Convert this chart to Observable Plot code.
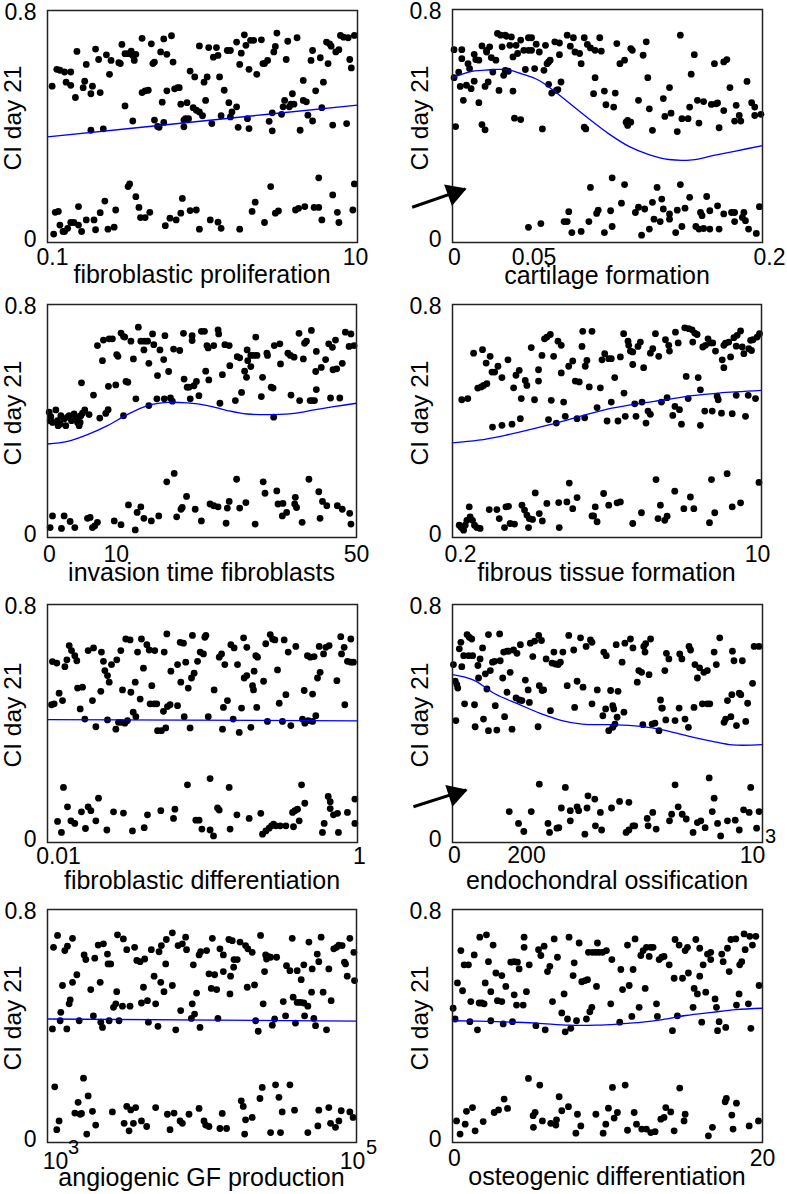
<!DOCTYPE html>
<html><head><meta charset="utf-8">
<script src="https://cdn.jsdelivr.net/npm/d3@7"></script>
<script src="https://cdn.jsdelivr.net/npm/@observablehq/plot@0.6"></script>
<style>
html,body{margin:0;padding:0;background:#fff;}
#chart{position:relative;width:787px;height:1194px;overflow:hidden;font-family:"Liberation Sans",Arial,sans-serif;color:#000;}
.panel{position:absolute;}
.xt{position:absolute;font-size:25px;line-height:1;white-space:nowrap;transform:translateX(-50%);}
.yt{position:absolute;font-size:24.5px;line-height:1;white-space:nowrap;transform:translate(-50%,-50%) rotate(-90deg);}
</style></head><body><div id="chart"></div><script>
// ---------- DATA ----------
const yTicks = [0, 0.8];
const yTickLabels = ["0", "0.8"];
const yTitle = "CI day 21";

// panel 1: fibroblastic proliferation (log10 of parameter, CI)
const fibProlifLog10Pts = [[-0.97,0.539],[-0.94,0.597],[-0.92,0.594],[-0.89,0.588],[-0.85,0.588],[-0.88,0.553],[-0.85,0.542],[-0.81,0.659],[-0.82,0.50],[-0.77,0.534],[-0.76,0.556],[-0.75,0.614],[-0.72,0.387],[-0.72,0.513],[-0.71,0.539],[-0.69,0.667],[-0.67,0.631],[-0.66,0.517],[-0.64,0.392],[-0.62,0.647],[-0.60,0.58],[-0.59,0.628],[-0.54,0.62],[-0.53,0.617],[-0.52,0.683],[-0.50,0.471],[-0.50,0.651],[-0.48,0.651],[-0.46,0.66],[-0.45,0.645],[-0.44,0.628],[-0.45,0.419],[-0.43,0.649],[-0.39,0.704],[-0.39,0.517],[-0.37,0.523],[-0.35,0.525],[-0.33,0.685],[-0.32,0.617],[-0.31,0.622],[-0.31,0.422],[-0.29,0.40],[-0.28,0.397],[-0.27,0.657],[-0.26,0.484],[-0.25,0.414],[-0.25,0.702],[-0.23,0.649],[-0.23,0.523],[-0.20,0.713],[-0.19,0.622],[-0.18,0.53],[-0.16,0.534],[-0.15,0.534],[-0.14,0.477],[-0.12,0.422],[-0.12,0.399],[-0.11,0.427],[-0.09,0.427],[-0.10,0.482],[-0.08,0.591],[-0.06,0.465],[-0.05,0.571],[-0.04,0.456],[-0.02,0.45],[-0.02,0.678],[0,0.437],[0.01,0.553],[0.02,0.49],[0.03,0.571],[0.04,0.672],[0.06,0.41],[0.07,0.639],[0.09,0.672],[0.10,0.645],[0.11,0.571],[0.12,0.437],[0.14,0.525],[0.16,0.662],[0.18,0.662],[0.17,0.482],[0.18,0.433],[0.19,0.45],[0.22,0.691],[0.22,0.468],[0.23,0.397],[0.24,0.614],[0.25,0.653],[0.27,0.716],[0.28,0.68],[0.29,0.427],[0.30,0.597],[0.30,0.393],[0.31,0.697],[0.33,0.697],[0.35,0.58],[0.38,0.699],[0.39,0.617],[0.40,0.617],[0.42,0.628],[0.43,0.418],[0.45,0.447],[0.45,0.385],[0.46,0.657],[0.47,0.676],[0.48,0.722],[0.51,0.442],[0.52,0.468],[0.53,0.49],[0.54,0.631],[0.55,0.694],[0.56,0.468],[0.57,0.477],[0.58,0.513],[0.59,0.477],[0.61,0.706],[0.63,0.387],[0.65,0.559],[0.65,0.49],[0.67,0.485],[0.68,0.439],[0.70,0.628],[0.71,0.419],[0.71,0.662],[0.73,0.523],[0.76,0.637],[0.77,0.465],[0.78,0.553],[0.80,0.691],[0.82,0.685],[0.83,0.677],[0.81,0.617],[0.84,0.405],[0.86,0.657],[0.88,0.665],[0.89,0.714],[0.91,0.708],[0.94,0.706],[0.93,0.41],[0.95,0.631],[0.96,0.602],[0.98,0.714],
[-0.96,0.029],[-0.95,0.104],[-0.93,0.107],[-0.92,0.06],[-0.90,0.038],[-0.89,0.038],[-0.87,0.049],[-0.85,0.069],[-0.83,0.069],[-0.80,0.124],[-0.80,0.06],[-0.78,0.038],[-0.75,0.078],[-0.70,0.078],[-0.69,0.044],[-0.66,0.103],[-0.63,0.143],[-0.61,0.046],[-0.57,0.053],[-0.56,0.112],[-0.48,0.193],[-0.47,0.202],[-0.43,0.158],[-0.41,0.121],[-0.40,0.086],[-0.37,0.086],[-0.34,0.104],[-0.24,0.058],[-0.21,0.084],[-0.17,0.078],[-0.14,0.101],[-0.13,0.152],[-0.08,0.11],[-0.04,0.112],[-0.02,0.046],[0.05,0.078],[0.10,0.07],[0.12,0.049],[0.24,0.046],[0.32,0.107],[0.34,0.139],[0.40,0.069],[0.44,0.193],[0.47,0.101],[0.49,0.109],[0.60,0.112],[0.62,0.118],[0.66,0.124],[0.72,0.121],[0.75,0.121],[0.75,0.223],[0.77,0.078],[0.84,0.164],[0.87,0.104],[0.88,0.069],[0.97,0.112],[0.98,0.202]];
const fibProlifLog10Fit = [[-1,0.364],[0,0.419],[1,0.474]];

// panel 2: cartilage formation
const cartilagePts = [[0.001,0.662],[0.001,0.566],[0.002,0.398],[0.004,0.585],[0.005,0.536],[0.006,0.631],[0.006,0.662],[0.007,0.488],[0.009,0.54],[0.010,0.614],[0.011,0.597],[0.012,0.528],[0.014,0.554],[0.014,0.646],[0.015,0.628],[0.017,0.626],[0.017,0.48],[0.019,0.405],[0.021,0.387],[0.019,0.675],[0.021,0.536],[0.022,0.66],[0.022,0.654],[0.023,0.551],[0.024,0.672],[0.025,0.635],[0.028,0.626],[0.026,0.585],[0.029,0.718],[0.030,0.522],[0.031,0.712],[0.034,0.712],[0.035,0.708],[0.032,0.672],[0.033,0.574],[0.034,0.591],[0.036,0.588],[0.037,0.677],[0.038,0.706],[0.039,0.637],[0.039,0.52],[0.040,0.427],[0.044,0.422],[0.041,0.677],[0.042,0.649],[0.044,0.695],[0.046,0.66],[0.047,0.594],[0.049,0.703],[0.051,0.703],[0.049,0.66],[0.051,0.66],[0.053,0.597],[0.054,0.681],[0.056,0.654],[0.058,0.39],[0.059,0.591],[0.060,0.677],[0.061,0.614],[0.062,0.62],[0.062,0.543],[0.063,0.626],[0.064,0.513],[0.066,0.689],[0.067,0.522],[0.068,0.525],[0.069,0.685],[0.069,0.645],[0.070,0.551],[0.074,0.712],[0.076,0.674],[0.078,0.703],[0.079,0.654],[0.082,0.649],[0.083,0.614],[0.085,0.396],[0.086,0.39],[0.085,0.703],[0.087,0.68],[0.089,0.668],[0.091,0.511],[0.092,0.66],[0.092,0.566],[0.095,0.703],[0.096,0.657],[0.098,0.52],[0.099,0.473],[0.104,0.465],[0.105,0.513],[0.106,0.683],[0.108,0.614],[0.111,0.626],[0.112,0.413],[0.113,0.419],[0.115,0.413],[0.113,0.402],[0.115,0.666],[0.116,0.66],[0.120,0.488],[0.123,0.643],[0.125,0.689],[0.126,0.566],[0.127,0.459],[0.129,0.385],[0.136,0.494],[0.137,0.433],[0.140,0.532],[0.141,0.444],[0.145,0.381],[0.147,0.712],[0.148,0.425],[0.152,0.425],[0.153,0.465],[0.154,0.578],[0.156,0.645],[0.158,0.488],[0.159,0.41],[0.162,0.484],[0.167,0.474],[0.170,0.476],[0.169,0.614],[0.171,0.479],[0.172,0.394],[0.175,0.453],[0.175,0.62],[0.177,0.628],[0.179,0.532],[0.182,0.417],[0.183,0.471],[0.185,0.436],[0.186,0.417],[0.190,0.553],[0.193,0.48],[0.195,0.465],[0.195,0.436],[0.199,0.44],
[0.049,0.052],[0.057,0.065],[0.072,0.072],[0.074,0.072],[0.075,0.106],[0.077,0.034],[0.083,0.038],[0.088,0.072],[0.089,0.189],[0.093,0.10],[0.094,0.111],[0.098,0.034],[0.102,0.109],[0.103,0.222],[0.103,0.055],[0.109,0.135],[0.111,0.199],[0.118,0.103],[0.120,0.121],[0.124,0.115],[0.122,0.025],[0.127,0.046],[0.129,0.138],[0.130,0.08],[0.132,0.189],[0.134,0.072],[0.135,0.149],[0.136,0.115],[0.140,0.098],[0.140,0.08],[0.144,0.034],[0.145,0.111],[0.147,0.199],[0.148,0.055],[0.150,0.118],[0.153,0.155],[0.157,0.055],[0.159,0.046],[0.162,0.048],[0.166,0.046],[0.160,0.103],[0.161,0.092],[0.164,0.158],[0.166,0.109],[0.171,0.126],[0.172,0.046],[0.175,0.098],[0.180,0.103],[0.182,0.103],[0.182,0.072],[0.188,0.103],[0.187,0.086],[0.189,0.075],[0.191,0.046],[0.196,0.031],[0.198,0.123]];
const cartilageFit = [[0,0.566],[0.006,0.577],[0.0125,0.588],[0.019,0.591],[0.0276,0.594],[0.0362,0.593],[0.0448,0.579],[0.0556,0.557],[0.0664,0.517],[0.0771,0.471],[0.0879,0.425],[0.1009,0.373],[0.1138,0.33],[0.1267,0.302],[0.1396,0.285],[0.1547,0.284],[0.1677,0.298],[0.1827,0.314],[0.2,0.333]];
const cartilageArrow = [{x1:-0.026, y1:0.121, x2:0.0082, y2:0.184}];

// panel 3: invasion time fibroblasts
const invasionPts = [[0.27,0.43],[0.43,0.401],[0.81,0.395],[0.54,0.415],[1.35,0.438],[1.62,0.401],[1.72,0.384],[2.05,0.39],[2.16,0.418],[2.69,0.407],[2.96,0.384],[3.23,0.413],[3.5,0.418],[3.88,0.401],[4.31,0.424],[4.58,0.413],[4.85,0.395],[5.12,0.384],[5.28,0.395],[4.96,0.413],[5.39,0.418],[5.66,0.427],[5.5,0.531],[6.03,0.438],[6.73,0.422],[7.44,0.489],[8.08,0.659],[8.46,0.41],[8.89,0.607],[9.05,0.678],[9.97,0.682],[9.43,0.426],[9.81,0.439],[9.86,0.519],[10.5,0.682],[11.05,0.524],[11.2,0.628],[11.4,0.622],[12.3,0.418],[11.9,0.702],[12.3,0.69],[12.7,0.536],[13.0,0.533],[12.5,0.688],[13.5,0.674],[13.9,0.613],[14.3,0.476],[14.7,0.722],[15.1,0.674],[15.6,0.644],[15.7,0.674],[16.2,0.674],[16.4,0.453],[16.4,0.598],[17.0,0.699],[17.2,0.662],[17.7,0.476],[17.8,0.556],[18.2,0.644],[18.8,0.611],[18.9,0.476],[19.0,0.693],[19.6,0.57],[19.9,0.479],[20.2,0.468],[20.4,0.647],[21.4,0.642],[22.0,0.701],[22.1,0.544],[22.6,0.516],[22.9,0.516],[23.1,0.476],[23.4,0.693],[23.4,0.676],[23.7,0.521],[24.1,0.536],[24.5,0.487],[24.9,0.708],[25.4,0.708],[25.6,0.571],[25.8,0.659],[26.0,0.651],[26.1,0.541],[26.9,0.659],[27.6,0.713],[27.7,0.699],[27.9,0.461],[28.3,0.559],[28.7,0.662],[29.4,0.659],[29.5,0.59],[30.4,0.47],[30.7,0.621],[31.1,0.617],[31.4,0.498],[31.9,0.571],[32.3,0.644],[32.4,0.607],[32.9,0.587],[32.2,0.55],[32.9,0.625],[33.4,0.625],[33.9,0.625],[33.7,0.688],[34.8,0.55],[34.6,0.484],[35.5,0.633],[35.6,0.625],[36.2,0.516],[36.5,0.513],[36.6,0.413],[36.7,0.659],[37.6,0.665],[37.7,0.596],[38.9,0.633],[39.3,0.625],[39.9,0.619],[39.4,0.489],[40.7,0.701],[40.8,0.47],[41.4,0.613],[41.6,0.667],[41.9,0.674],[42.5,0.47],[42.8,0.47],[43.2,0.47],[42.7,0.711],[43.4,0.57],[43.5,0.639],[43.5,0.508],[44.3,0.584],[45.0,0.611],[45.5,0.665],[46.1,0.653],[45.8,0.479],[46.2,0.576],[46.6,0.678],[46.8,0.579],[47.3,0.479],[47.7,0.598],[48.2,0.705],[48.8,0.656],[49.1,0.699],[49.6,0.659],
[0.43,0.034],[0.81,0.074],[2.26,0.031],[2.69,0.074],[3.66,0.055],[4.42,0.034],[6.47,0.066],[6.9,0.069],[7.27,0.034],[7.65,0.04],[8.08,0.052],[10.8,0.057],[11.9,0.044],[13.1,0.112],[14.2,0.026],[14.5,0.086],[15.1,0.105],[15.6,0.066],[16.8,0.057],[18.0,0.074],[19.3,0.191],[20.5,0.22],[20.9,0.071],[21.6,0.097],[21.8,0.103],[22.5,0.141],[23.9,0.097],[24.9,0.057],[26.3,0.115],[26.9,0.109],[27.6,0.105],[28.9,0.049],[29.1,0.101],[29.4,0.124],[30.6,0.2],[31.1,0.101],[32.1,0.12],[33.6,0.046],[34.9,0.191],[35.2,0.152],[37.1,0.16],[37.3,0.115],[38.1,0.117],[38.0,0.074],[38.7,0.086],[40.0,0.115],[40.1,0.138],[40.3,0.103],[41.2,0.052],[42.3,0.2],[43.9,0.157],[44.1,0.066],[44.5,0.124],[45.2,0.109],[46.9,0.109],[47.7,0.097],[48.9,0.083],[49.1,0.046]];
const invasionFit = [[0,0.321],[3.23,0.33],[6.47,0.353],[9.7,0.384],[12.9,0.422],[16.2,0.453],[19.4,0.464],[22.6,0.462],[25.9,0.453],[29.1,0.436],[32.3,0.424],[36.6,0.422],[39.9,0.426],[43.1,0.438],[46.3,0.449],[50,0.461]];

// panel 4: fibrous tissue formation (log10 of parameter)
const fibrousLog10Pts = [[-0.648,0.473],[-0.615,0.477],[-0.583,0.633],[-0.56,0.513],[-0.541,0.517],[-0.534,0.645],[-0.528,0.522],[-0.51,0.528],[-0.514,0.599],[-0.492,0.622],[-0.482,0.568],[-0.467,0.568],[-0.479,0.379],[-0.427,0.385],[-0.449,0.588],[-0.427,0.549],[-0.394,0.61],[-0.372,0.389],[-0.363,0.514],[-0.35,0.557],[-0.332,0.574],[-0.326,0.408],[-0.321,0.477],[-0.299,0.539],[-0.29,0.522],[-0.266,0.652],[-0.248,0.473],[-0.226,0.576],[-0.226,0.537],[-0.207,0.625],[-0.193,0.682],[-0.18,0.688],[-0.161,0.697],[-0.171,0.405],[-0.156,0.471],[-0.143,0.622],[-0.128,0.393],[-0.119,0.674],[-0.101,0.66],[-0.101,0.565],[-0.088,0.465],[-0.079,0.416],[-0.06,0.588],[-0.038,0.606],[-0.024,0.537],[-0.002,0.534],[-0.014,0.408],[0.013,0.656],[0.017,0.708],[0.068,0.708],[0.028,0.411],[0.031,0.588],[0.04,0.608],[0.053,0.517],[0.096,0.446],[0.114,0.514],[0.123,0.61],[0.138,0.631],[0.151,0.4],[0.16,0.614],[0.174,0.614],[0.174,0.465],[0.193,0.549],[0.211,0.4],[0.224,0.62],[0.242,0.7],[0.244,0.496],[0.251,0.416],[0.266,0.674],[0.27,0.66],[0.279,0.64],[0.292,0.637],[0.292,0.594],[0.303,0.459],[0.31,0.416],[0.321,0.656],[0.334,0.671],[0.343,0.465],[0.352,0.583],[0.365,0.393],[0.376,0.434],[0.389,0.423],[0.389,0.633],[0.402,0.648],[0.417,0.7],[0.435,0.622],[0.45,0.465],[0.481,0.48],[0.472,0.679],[0.49,0.66],[0.494,0.64],[0.512,0.419],[0.524,0.45],[0.527,0.705],[0.542,0.668],[0.549,0.439],[0.56,0.389],[0.578,0.72],[0.6,0.717],[0.618,0.713],[0.586,0.553],[0.597,0.477],[0.622,0.671],[0.633,0.702],[0.646,0.697],[0.652,0.549],[0.664,0.507],[0.664,0.385],[0.677,0.654],[0.692,0.66],[0.688,0.434],[0.706,0.682],[0.719,0.668],[0.732,0.668],[0.729,0.434],[0.747,0.64],[0.756,0.485],[0.762,0.473],[0.78,0.427],[0.784,0.61],[0.793,0.583],[0.793,0.66],[0.802,0.667],[0.82,0.671],[0.83,0.62],[0.839,0.425],[0.848,0.686],[0.866,0.694],[0.885,0.709],[0.861,0.657],[0.861,0.488],[0.894,0.654],[0.903,0.631],[0.912,0.416],[0.927,0.488],[0.93,0.648],[0.94,0.677],[0.953,0.679],[0.945,0.642],[0.967,0.477],[0.976,0.688],[0.989,0.7],
[-0.662,0.042],[-0.651,0.034],[-0.638,0.025],[-0.629,0.042],[-0.62,0.059],[-0.607,0.105],[-0.602,0.071],[-0.589,0.059],[-0.578,0.042],[-0.565,0.034],[-0.547,0.031],[-0.497,0.096],[-0.455,0.096],[-0.442,0.065],[-0.413,0.034],[-0.405,0.105],[-0.391,0.107],[-0.382,0.048],[-0.358,0.046],[-0.317,0.111],[-0.303,0.094],[-0.29,0.077],[-0.277,0.065],[-0.259,0.062],[-0.281,0.034],[-0.244,0.153],[-0.222,0.082],[-0.205,0.057],[-0.18,0.117],[-0.115,0.12],[-0.112,0.034],[-0.07,0.122],[-0.057,0.187],[-0.038,0.099],[-0.014,0.137],[0.068,0.074],[0.086,0.105],[0.077,0.074],[0.096,0.054],[0.132,0.151],[0.16,0.111],[0.206,0.119],[0.224,0.122],[0.292,0.048],[0.34,0.085],[0.42,0.199],[0.431,0.065],[0.444,0.111],[0.468,0.059],[0.481,0.073],[0.523,0.159],[0.573,0.099],[0.609,0.139],[0.628,0.099],[0.714,0.051],[0.725,0.199],[0.743,0.085],[0.811,0.219],[0.839,0.105],[0.885,0.119],[0.986,0.189]];
const fibrousLog10Fit = [[-0.699,0.325],[-0.556,0.334],[-0.409,0.351],[-0.262,0.372],[-0.115,0.395],[0.031,0.421],[0.178,0.444],[0.325,0.46],[0.472,0.473],[0.619,0.487],[0.765,0.496],[1.0,0.505]];

// panel 5: fibroblastic differentiation (log10 of parameter)
const fibDiffLog10Pts = [[-1.974,0.463],[-1.957,0.466],[-1.968,0.608],[-1.94,0.603],[-1.925,0.502],[-1.903,0.477],[-1.888,0.591],[-1.875,0.614],[-1.86,0.662],[-1.845,0.645],[-1.824,0.628],[-1.811,0.611],[-1.806,0.519],[-1.774,0.522],[-1.789,0.449],[-1.759,0.415],[-1.738,0.645],[-1.703,0.654],[-1.71,0.477],[-1.688,0.389],[-1.656,0.508],[-1.652,0.64],[-1.639,0.609],[-1.63,0.578],[-1.613,0.561],[-1.602,0.539],[-1.613,0.412],[-1.587,0.598],[-1.559,0.381],[-1.553,0.614],[-1.542,0.404],[-1.523,0.404],[-1.501,0.401],[-1.484,0.41],[-1.527,0.645],[-1.516,0.513],[-1.495,0.684],[-1.467,0.681],[-1.462,0.505],[-1.447,0.438],[-1.43,0.423],[-1.434,0.539],[-1.419,0.64],[-1.402,0.482],[-1.394,0.684],[-1.381,0.586],[-1.359,0.665],[-1.344,0.647],[-1.308,0.645],[-1.338,0.466],[-1.312,0.466],[-1.295,0.466],[-1.327,0.527],[-1.29,0.376],[-1.265,0.376],[-1.252,0.441],[-1.247,0.64],[-1.237,0.385],[-1.23,0.701],[-1.226,0.457],[-1.209,0.463],[-1.204,0.576],[-1.161,0.46],[-1.161,0.598],[-1.144,0.673],[-1.123,0.67],[-1.14,0.539],[-1.118,0.423],[-1.108,0.606],[-1.092,0.519],[-1.08,0.385],[-1.071,0.553],[-1.065,0.696],[-1.054,0.569],[-1.032,0.609],[-1.015,0.64],[-0.985,0.69],[-0.978,0.696],[-0.994,0.634],[-0.963,0.423],[-0.925,0.513],[-0.892,0.623],[-0.877,0.634],[-0.871,0.381],[-0.865,0.454],[-0.856,0.598],[-0.839,0.477],[-0.817,0.665],[-0.796,0.654],[-0.802,0.415],[-0.774,0.598],[-0.763,0.37],[-0.748,0.452],[-0.735,0.688],[-0.731,0.553],[-0.714,0.561],[-0.714,0.656],[-0.688,0.387],[-0.677,0.527],[-0.671,0.513],[-0.667,0.576],[-0.656,0.628],[-0.645,0.623],[-0.65,0.454],[-0.606,0.542],[-0.592,0.668],[-0.581,0.407],[-0.563,0.699],[-0.548,0.684],[-0.533,0.681],[-0.516,0.58],[-0.505,0.468],[-0.484,0.407],[-0.473,0.681],[-0.462,0.497],[-0.447,0.64],[-0.43,0.393],[-0.398,0.659],[-0.355,0.415],[-0.344,0.511],[-0.34,0.401],[-0.318,0.41],[-0.29,0.407],[-0.323,0.628],[-0.305,0.623],[-0.29,0.499],[-0.28,0.625],[-0.269,0.426],[-0.258,0.553],[-0.241,0.572],[-0.247,0.659],[-0.219,0.634],[-0.204,0.656],[-0.183,0.662],[-0.133,0.544],[-0.108,0.692],[-0.103,0.634],[-0.086,0.656],[-0.082,0.463],[-0.065,0.609],[-0.043,0.606],[-0.026,0.606],[-0.043,0.684],
[-1.935,0.071],[-1.91,0.034],[-1.897,0.185],[-1.871,0.12],[-1.849,0.073],[-1.824,0.064],[-1.781,0.103],[-1.755,0.047],[-1.738,0.12],[-1.72,0.107],[-1.688,0.073],[-1.671,0.149],[-1.617,0.042],[-1.574,0.103],[-1.51,0.099],[-1.452,0.039],[-1.376,0.05],[-1.355,0.093],[-1.269,0.107],[-1.187,0.081],[-1.178,0.112],[-1.097,0.194],[-1.043,0.075],[-1.022,0.075],[-1.004,0.045],[-0.951,0.215],[-0.951,0.042],[-0.929,0.022],[-0.903,0.116],[-0.892,0.109],[-0.828,0.185],[-0.822,0.045],[-0.778,0.093],[-0.699,0.081],[-0.624,0.098],[-0.613,0.028],[-0.591,0.039],[-0.57,0.048],[-0.555,0.056],[-0.542,0.062],[-0.527,0.056],[-0.499,0.056],[-0.462,0.056],[-0.419,0.101],[-0.404,0.107],[-0.387,0.112],[-0.413,0.053],[-0.376,0.073],[-0.361,0.194],[-0.34,0.132],[-0.226,0.034],[-0.215,0.064],[-0.189,0.155],[-0.176,0.137],[-0.176,0.114],[-0.155,0.093],[-0.129,0.098],[-0.123,0.034],[-0.065,0.101],[-0.017,0.146],[-0.017,0.064]];
const fibDiffLog10Fit = [[-2,0.413],[0,0.409]];

// panel 6: endochondral ossification
const endoPts = [[3,0.598],[9,0.542],[14,0.531],[17,0.519],[11,0.41],[22,0.651],[27,0.673],[30,0.591],[36,0.628],[52,0.628],[65,0.628],[39,0.466],[47,0.699],[54,0.69],[62,0.684],[71,0.463],[73,0.389],[82,0.595],[84,0.553],[89,0.617],[97,0.654],[100,0.415],[106,0.567],[111,0.516],[116,0.376],[116,0.699],[122,0.578],[129,0.606],[136,0.609],[138,0.46],[143,0.378],[152,0.701],[154,0.611],[162,0.553],[165,0.64],[176,0.643],[181,0.643],[168,0.423],[176,0.505],[186,0.572],[192,0.381],[197,0.647],[208,0.636],[205,0.486],[216,0.479],[224,0.477],[219,0.665],[235,0.546],[244,0.513],[248,0.471],[251,0.67],[265,0.677],[278,0.696],[259,0.625],[276,0.389],[280,0.527],[289,0.511],[294,0.513],[287,0.679],[302,0.617],[316,0.443],[321,0.603],[332,0.6],[341,0.598],[348,0.606],[327,0.64],[356,0.64],[370,0.527],[375,0.696],[391,0.647],[394,0.454],[402,0.542],[413,0.688],[421,0.522],[431,0.659],[445,0.681],[450,0.673],[450,0.466],[467,0.513],[485,0.426],[488,0.64],[496,0.628],[494,0.449],[504,0.376],[517,0.387],[524,0.398],[510,0.511],[534,0.508],[517,0.46],[520,0.449],[528,0.665],[531,0.421],[547,0.606],[553,0.438],[556,0.67],[574,0.684],[582,0.654],[596,0.539],[601,0.578],[610,0.572],[614,0.396],[617,0.659],[621,0.64],[623,0.668],[634,0.564],[639,0.684],[644,0.398],[653,0.401],[666,0.376],[671,0.479],[675,0.452],[677,0.452],[688,0.412],[685,0.578],[690,0.636],[698,0.617],[718,0.41],[731,0.452],[733,0.634],[740,0.617],[750,0.415],[761,0.387],[763,0.659],[768,0.647],[779,0.454],[782,0.598],[797,0.587],[811,0.572],[822,0.578],[790,0.553],[806,0.466],[822,0.466],[830,0.466],[844,0.64],[851,0.598],[862,0.688],[876,0.404],[881,0.415],[887,0.477],[901,0.497],[898,0.423],[903,0.643],[908,0.611],[916,0.393],[925,0.502],[930,0.497],[935,0.611],[946,0.407],[952,0.468],[968,0.535],[973,0.659],[989,0.659],
[183,0.104],[213,0.064],[230,0.037],[254,0.104],[280,0.196],[308,0.064],[313,0.034],[337,0.048],[343,0.05],[351,0.116],[364,0.185],[380,0.073],[380,0.107],[402,0.12],[407,0.107],[427,0.028],[434,0.116],[437,0.157],[459,0.146],[461,0.056],[477,0.101],[481,0.042],[513,0.116],[539,0.138],[560,0.034],[569,0.042],[582,0.056],[588,0.056],[569,0.135],[628,0.081],[631,0.056],[646,0.101],[657,0.045],[700,0.073],[707,0.095],[718,0.194],[728,0.12],[741,0.095],[754,0.079],[776,0.034],[790,0.067],[801,0.073],[815,0.05],[828,0.217],[838,0.104],[844,0.149],[855,0.064],[865,0.022],[887,0.073],[912,0.075],[925,0.042],[939,0.11],[957,0.101],[962,0.185],[981,0.048],[989,0.104]];
const endoFit = [[0,0.564],[68,0.546],[138,0.499],[213,0.465],[283,0.434],[353,0.41],[418,0.398],[504,0.396],[569,0.394],[644,0.385],[709,0.371],[774,0.354],[838,0.34],[903,0.328],[1000,0.329]];
const endoArrow = [{x1:-126, y1:0.12, x2:44, y2:0.177}];

// panel 7: angiogenic GF production (log10 of parameter)
const angioLog10Pts = [[3.032,0.39],[3.039,0.67],[3.065,0.711],[3.082,0.418],[3.086,0.447],[3.097,0.539],[3.112,0.659],[3.129,0.674],[3.125,0.39],[3.14,0.476],[3.147,0.49],[3.162,0.55],[3.162,0.701],[3.19,0.576],[3.205,0.418],[3.237,0.644],[3.248,0.628],[3.28,0.525],[3.297,0.435],[3.306,0.633],[3.328,0.678],[3.362,0.682],[3.341,0.55],[3.345,0.413],[3.356,0.395],[3.388,0.647],[3.392,0.613],[3.409,0.613],[3.399,0.418],[3.427,0.464],[3.442,0.476],[3.448,0.518],[3.463,0.418],[3.453,0.713],[3.491,0.699],[3.485,0.468],[3.513,0.662],[3.534,0.468],[3.564,0.67],[3.578,0.625],[3.599,0.621],[3.629,0.63],[3.608,0.479],[3.621,0.533],[3.647,0.487],[3.653,0.413],[3.672,0.662],[3.69,0.571],[3.7,0.476],[3.715,0.399],[3.722,0.655],[3.737,0.676],[3.733,0.55],[3.754,0.518],[3.765,0.613],[3.769,0.697],[3.808,0.539],[3.808,0.72],[3.83,0.387],[3.845,0.676],[3.873,0.682],[3.862,0.453],[3.894,0.705],[3.9,0.662],[3.931,0.426],[3.944,0.61],[3.937,0.476],[3.952,0.441],[3.965,0.513],[3.981,0.644],[3.991,0.655],[3.987,0.395],[4.03,0.659],[4.045,0.579],[4.06,0.529],[4.095,0.525],[4.067,0.701],[4.082,0.576],[4.103,0.426],[4.116,0.665],[4.138,0.644],[4.138,0.587],[4.174,0.697],[4.196,0.693],[4.185,0.571],[4.181,0.51],[4.207,0.628],[4.228,0.628],[4.205,0.602],[4.246,0.688],[4.282,0.676],[4.297,0.665],[4.293,0.533],[4.325,0.653],[4.34,0.541],[4.347,0.418],[4.364,0.382],[4.379,0.711],[4.396,0.476],[4.405,0.587],[4.412,0.644],[4.427,0.639],[4.444,0.636],[4.483,0.636],[4.418,0.63],[4.455,0.403],[4.47,0.424],[4.526,0.484],[4.541,0.435],[4.547,0.607],[4.569,0.59],[4.616,0.59],[4.584,0.701],[4.59,0.499],[4.605,0.41],[4.616,0.481],[4.638,0.481],[4.659,0.479],[4.642,0.559],[4.659,0.61],[4.664,0.435],[4.724,0.426],[4.685,0.468],[4.692,0.688],[4.709,0.516],[4.713,0.596],[4.735,0.401],[4.746,0.647],[4.756,0.621],[4.771,0.705],[4.784,0.516],[4.806,0.387],[4.821,0.596],[4.836,0.487],[4.853,0.665],[4.871,0.67],[4.886,0.678],[4.907,0.676],[4.922,0.619],[4.929,0.613],[4.94,0.571],[4.957,0.701],[4.983,0.653],[4.987,0.556],
[3.047,0.191],[3.06,0.044],[3.075,0.074],[3.177,0.101],[3.211,0.097],[3.22,0.1],[3.198,0.138],[3.233,0.221],[3.254,0.029],[3.263,0.16],[3.291,0.107],[3.312,0.06],[3.42,0.105],[3.496,0.066],[3.513,0.124],[3.539,0.112],[3.528,0.04],[3.556,0.066],[3.571,0.12],[3.608,0.074],[3.642,0.055],[3.7,0.12],[3.776,0.097],[3.819,0.101],[3.793,0.044],[3.858,0.074],[3.873,0.066],[3.916,0.097],[3.981,0.117],[4.013,0.074],[4.024,0.06],[4.045,0.055],[4.116,0.048],[4.159,0.048],[4.131,0.1],[4.254,0.143],[4.267,0.124],[4.276,0.029],[4.282,0.078],[4.325,0.086],[4.375,0.151],[4.39,0.189],[4.444,0.034],[4.476,0.198],[4.498,0.155],[4.508,0.034],[4.519,0.105],[4.569,0.198],[4.599,0.111],[4.685,0.034],[4.75,0.057],[4.756,0.111],[4.821,0.12],[4.832,0.066],[4.864,0.052],[4.886,0.074],[4.901,0.109],[4.957,0.105],[4.978,0.086]];
const angioLog10Fit = [[3,0.424],[5,0.417]];

// panel 8: osteogenic differentiation
const osteoPts = [[0.04,0.461],[0.17,0.424],[0.32,0.548],[0.54,0.659],[0.65,0.521],[0.75,0.61],[1.03,0.61],[1.12,0.415],[1.18,0.484],[1.4,0.644],[1.61,0.387],[1.72,0.479],[1.89,0.479],[2.04,0.476],[1.76,0.705],[2.19,0.713],[2.11,0.548],[2.32,0.621],[2.47,0.518],[2.47,0.418],[2.62,0.678],[2.8,0.582],[2.9,0.487],[3.18,0.484],[3.18,0.573],[3.27,0.407],[3.44,0.536],[3.76,0.619],[3.98,0.621],[4.19,0.619],[3.87,0.415],[3.98,0.507],[4.13,0.472],[4.56,0.472],[4.3,0.596],[4.62,0.705],[4.62,0.67],[4.77,0.518],[4.95,0.61],[5.38,0.401],[5.55,0.662],[5.7,0.642],[5.91,0.674],[6.13,0.587],[6.28,0.605],[5.98,0.387],[6.45,0.484],[6.56,0.699],[6.77,0.636],[7.05,0.445],[7.2,0.51],[7.27,0.38],[7.42,0.424],[7.63,0.392],[7.52,0.705],[7.78,0.573],[7.85,0.617],[8.0,0.418],[8.17,0.685],[8.34,0.552],[8.56,0.556],[8.71,0.559],[8.64,0.424],[8.77,0.653],[9.03,0.653],[9.25,0.653],[9.46,0.653],[9.68,0.653],[9.93,0.659],[8.86,0.449],[8.99,0.464],[9.29,0.536],[9.35,0.685],[10.21,0.476],[10.28,0.628],[10.79,0.413],[10.86,0.594],[10.97,0.525],[11.29,0.678],[11.4,0.539],[11.57,0.433],[11.65,0.594],[11.78,0.699],[12.04,0.464],[12.15,0.642],[12.3,0.659],[12.51,0.67],[12.79,0.67],[12.94,0.67],[12.43,0.529],[12.69,0.639],[13.16,0.476],[13.22,0.433],[13.33,0.628],[13.5,0.636],[13.65,0.639],[13.98,0.61],[14.19,0.384],[14.3,0.564],[14.36,0.697],[14.51,0.435],[14.62,0.678],[14.84,0.564],[15.22,0.582],[15.01,0.659],[15.16,0.67],[15.52,0.464],[15.59,0.529],[15.8,0.51],[15.7,0.697],[15.95,0.667],[15.95,0.571],[16.08,0.413],[16.17,0.61],[16.34,0.516],[16.45,0.647],[16.66,0.653],[16.66,0.628],[16.94,0.493],[17.03,0.464],[17.1,0.384],[17.2,0.415],[17.37,0.647],[17.46,0.621],[17.63,0.395],[17.74,0.667],[17.85,0.587],[17.96,0.697],[18.28,0.699],[18.32,0.472],[18.49,0.51],[18.53,0.61],[18.66,0.621],[18.81,0.716],[18.88,0.662],[19.09,0.476],[19.18,0.708],[19.57,0.708],[19.25,0.392],[19.35,0.678],[19.78,0.539],
[0.26,0.074],[0.49,0.029],[0.82,0.063],[0.9,0.107],[1.29,0.12],[1.46,0.04],[1.98,0.072],[2.69,0.103],[2.97,0.112],[3.33,0.149],[3.55,0.117],[4.9,0.22],[5.2,0.092],[5.33,0.103],[5.22,0.052],[5.63,0.197],[5.8,0.074],[6.34,0.066],[6.67,0.06],[6.71,0.078],[6.88,0.157],[7.05,0.109],[7.48,0.123],[7.96,0.032],[8.06,0.097],[8.28,0.057],[9.25,0.097],[9.72,0.032],[9.89,0.063],[10.06,0.118],[10.32,0.189],[10.43,0.084],[10.64,0.103],[11.14,0.197],[11.29,0.042],[11.72,0.103],[11.87,0.063],[12.21,0.046],[12.51,0.046],[12.79,0.034],[13.07,0.037],[13.44,0.08],[13.65,0.086],[13.76,0.12],[14.08,0.105],[14.3,0.04],[14.66,0.187],[14.94,0.074],[15.01,0.097],[16.51,0.023],[16.77,0.052],[17.59,0.14],[17.67,0.151],[18.02,0.094],[18.1,0.046],[18.32,0.135],[19.14,0.057],[19.74,0.074]];
const osteoFit = [[0,0.418],[2.8,0.415],[5.38,0.41],[7.53,0.403],[9.25,0.403],[10.75,0.407],[12.26,0.413],[13.55,0.422],[15.05,0.436],[16.77,0.447],[18.28,0.456],[20,0.461]];

// x tick values / labels per panel (exp = superscript exponent of a "10" label)
const fibProlifTicks = [0.1, 10], fibProlifTickLabels = ["0.1", "10"];
const cartilageTicks = [0, 0.05, 0.2], cartilageTickLabels = ["0", "0.05", "0.2"];
const invasionTicks = [0, 10, 50], invasionTickLabels = ["0", "10", "50"];
const fibrousTicks = [0.2, 10], fibrousTickLabels = ["0.2", "10"];
const fibDiffTicks = [0.01, 1], fibDiffTickLabels = ["0.01", "1"];
const endoTicks = [0, 200, 1000], endoTickLabels = ["0", "200", "10"], endoTickExp = ["", "", "3"];
const angioTicks = [1000, 100000], angioTickLabels = ["10", "10"], angioTickExp = ["3", "5"];
const osteoTicks = [0, 20], osteoTickLabels = ["0", "20"];

// ---------- LAYOUT (pixel styling only) ----------
const FONT = '"Liberation Sans", Arial, Helvetica, sans-serif';
const ML = 60, MR = 40, MT = 20, MB = 70;
const panels = [
  {pts: fibProlifLog10Pts, fit: fibProlifLog10Fit, log: true, domain: [0.1, 10], ticks: fibProlifTicks, labels: fibProlifTickLabels, tickDx: [5, -2], xPad: 6, title: "fibroblastic proliferation", frame: [47, 10, 357, 242], tb: 41},
  {pts: cartilagePts, fit: cartilageFit, log: false, domain: [0, 0.2], ticks: cartilageTicks, labels: cartilageTickLabels, tickDx: [2, 4, 7], xPad: 6, title: "cartilage formation", frame: [452, 9, 762, 242], tb: 42, arrow: cartilageArrow, arrowRot: 70},
  {pts: invasionPts, fit: invasionFit, log: false, domain: [0, 50], ticks: invasionTicks, labels: invasionTickLabels, tickDx: [2, 7, 0], xPad: 8, title: "invasion time fibroblasts", frame: [47, 304, 356, 537], tb: 44},
  {pts: fibrousLog10Pts, fit: fibrousLog10Fit, log: true, domain: [0.2, 10], ticks: fibrousTicks, labels: fibrousTickLabels, tickDx: [8, -4], xPad: 8, title: "fibrous tissue formation", frame: [452, 304, 761, 537], tb: 44},
  {pts: fibDiffLog10Pts, fit: fibDiffLog10Fit, log: true, domain: [0.01, 1], ticks: fibDiffTicks, labels: fibDiffTickLabels, tickDx: [11, 2], xPad: 5, title: "fibroblastic differentiation", frame: [47, 604, 357, 842], tb: 47},
  {pts: endoPts, fit: endoFit, log: false, domain: [0, 1000], ticks: endoTicks, labels: endoTickLabels, exp: endoTickExp, tickDx: [2, 12, -10], expDx: [0, 0, 8], expDy: 0, xPad: 4, title: "endochondral ossification", frame: [452, 604, 762, 842], tb: 47, arrow: endoArrow, arrowRot: 72},
  {pts: angioLog10Pts, fit: angioLog10Fit, log: true, domain: [1000, 100000], ticks: angioTicks, labels: angioTickLabels, exp: angioTickExp, tickDx: [8, -4], expDx: [26, 15], expDy: 11, xPad: 10, title: "angiogenic GF production", frame: [47, 909, 356, 1142], tb: 44},
  {pts: osteoPts, fit: osteoFit, log: false, domain: [0, 20], ticks: osteoTicks, labels: osteoTickLabels, tickDx: [2, 0], xPad: 7, title: "osteogenic differentiation", frame: [452, 909, 762, 1142], tb: 43}
];
const yTickDy = [-2.5, 2.5];

const chart = document.getElementById("chart");

for (const p of panels) {
  const [l, t, r, b] = p.frame;
  const fw = r - l, fh = b - t;
  const toX = p.log ? (v => 10 ** v) : (v => v);
  const data = p.pts.map(([x, y]) => ({x: toX(x), y}));
  const fit = p.fit.map(([x, y]) => ({x: toX(x), y}));
  const marks = [];
  yTicks.forEach((v, i) => {
    marks.push(Plot.axisY({ticks: [v], tickFormat: () => yTickLabels[i], tickSize: 0, tickPadding: 11, dy: yTickDy[i], fontSize: 23, label: null}));
  });
  p.ticks.forEach((v, i) => {
    marks.push(Plot.axisX({ticks: [v], tickFormat: () => p.labels[i], tickSize: 0, tickPadding: p.xPad, dx: p.tickDx[i], fontSize: 23, label: null}));
  });
  marks.push(
    Plot.dot(data, {x: "x", y: "y", r: 3.4, fill: "#000"}),
    Plot.line(fit, {x: "x", y: "y", stroke: "#0000ff", strokeWidth: 1.3, curve: "catmull-rom"}),
    Plot.frame({stroke: "#222", strokeWidth: 1.5})
  );
  if (p.exp) {
    const expData = p.ticks.map((v, i) => ({x: v, t: p.exp[i], dx: p.expDx[i]})).filter(d => d.t);
    for (const d of expData) {
      marks.push(Plot.text([d], {x: "x", text: "t", frameAnchor: "bottom", dx: d.dx, dy: p.expDy, fontSize: 20}));
    }
  }
  if (p.arrow) {
    marks.push(Plot.link(p.arrow, {x1: "x1", y1: "y1", x2: "x2", y2: "y2", stroke: "#000", strokeWidth: 3}));
    marks.push(Plot.dot(p.arrow, {x: "x2", y: "y2", symbol: "triangle", r: 8.5, fill: "#000", rotate: p.arrowRot, dx: -11, dy: 4}));
  }
  const svg = Plot.plot({
    width: fw + ML + MR, height: fh + MT + MB,
    marginLeft: ML, marginRight: MR, marginTop: MT, marginBottom: MB,
    style: {fontFamily: FONT, fontSize: "23px", color: "#000", background: "transparent", overflow: "visible"},
    x: {type: p.log ? "log" : "linear", domain: p.domain},
    y: {domain: [0, 0.8]},
    marks
  });
  svg.classList.add("panel");
  svg.style.left = (l - ML) + "px";
  svg.style.top = (t - MT) + "px";
  chart.appendChild(svg);

  const xt = document.createElement("div");
  xt.className = "xt";
  xt.textContent = p.title;
  xt.style.left = ((l + r) / 2) + "px";
  xt.style.top = (b + p.tb - 21.2) + "px";
  chart.appendChild(xt);

  const yt = document.createElement("div");
  yt.className = "yt";
  yt.textContent = yTitle;
  yt.style.left = (l < 200 ? 13 : 420) + "px";
  yt.style.top = ((t + b) / 2 - 8) + "px";
  chart.appendChild(yt);
}
</script></body></html>
